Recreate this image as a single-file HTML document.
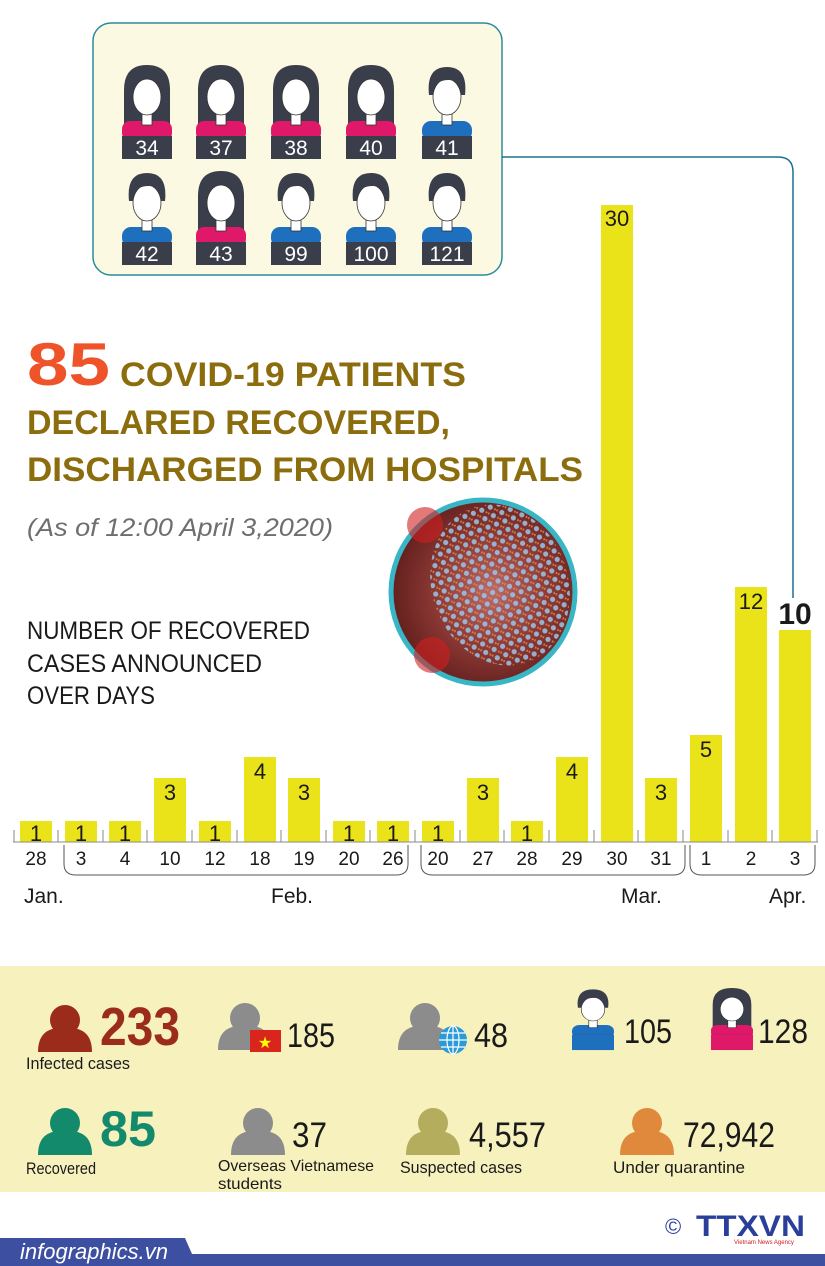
<!DOCTYPE html>
<html><head><meta charset="utf-8"><style>
html,body{margin:0;padding:0;background:#fff;}
svg{display:block;}
text{font-family:"Liberation Sans Narrow","Liberation Sans",sans-serif;}
</style></head><body>
<svg width="825" height="1266" viewBox="0 0 825 1266" xmlns="http://www.w3.org/2000/svg">
<defs>
<radialGradient id="vg" cx="0.55" cy="0.5" r="0.6">
<stop offset="0" stop-color="#b86a6a"/><stop offset="0.5" stop-color="#8e3a36"/><stop offset="1" stop-color="#5a1a18"/>
</radialGradient>
<pattern id="dots" width="9" height="9" patternUnits="userSpaceOnUse">
<circle cx="4.5" cy="4.5" r="2.6" fill="#9cc6e6"/><circle cx="0" cy="0" r="2" fill="#e08a4a"/><circle cx="9" cy="9" r="2" fill="#e08a4a"/>
</pattern>
<g id="fem">
<path d="M2,72 L2,25 Q2,0 25,0 Q48,0 48,25 L48,72 Z" fill="#3a3e4a"/>
<rect x="0" y="56" width="50" height="20" rx="8" fill="#e0186a"/>
<rect x="20" y="48" width="10" height="12" fill="#fff" stroke="#333" stroke-width="0.8"/>
<ellipse cx="25" cy="32" rx="14" ry="18" fill="#fff" stroke="#333" stroke-width="0.8"/>
<path d="M10,28 Q12,8 25,8 Q38,8 40,28 Q38,14 25,13 Q12,14 10,28Z" fill="#3a3e4a"/>
<rect x="0" y="71" width="50" height="23" fill="#3a3e4a"/>
</g>
<g id="mal">
<path d="M7,30 Q4,2 25,2 Q46,2 43,30 Z" fill="#3a3e4a"/>
<rect x="0" y="56" width="50" height="20" rx="9" fill="#1f6fbf"/>
<rect x="20" y="48" width="10" height="12" fill="#fff" stroke="#333" stroke-width="0.8"/>
<ellipse cx="25" cy="32" rx="14" ry="18" fill="#fff" stroke="#333" stroke-width="0.8"/>
<path d="M9,30 Q8,6 25,6 Q42,6 41,30 Q38,14 26,15 Q12,15 9,30Z" fill="#3a3e4a"/>
<rect x="0" y="71" width="50" height="23" fill="#3a3e4a"/>
</g>
<g id="per">
<circle cx="0" cy="-32" r="15"/>
<path d="M-27,0 Q-27,-26 0,-24 Q27,-26 27,0 Z"/>
</g>
</defs>

<rect x="93" y="23" width="409" height="252" rx="18" fill="#fbf9e2" stroke="#2b8aa0" stroke-width="1.5"/>
<path d="M502,157 L778,157 Q793,157 793,172 L793,598" fill="none" stroke="#1f6f8f" stroke-width="1.5"/>
<g font-size="21" fill="#fff" text-anchor="middle">
<use href="#fem" x="122" y="65"/><text x="147" y="155">34</text>
<use href="#fem" x="196" y="65"/><text x="221" y="155">37</text>
<use href="#fem" x="271" y="65"/><text x="296" y="155">38</text>
<use href="#fem" x="346" y="65"/><text x="371" y="155">40</text>
<use href="#mal" x="422" y="65"/><text x="447" y="155">41</text>
<use href="#mal" x="122" y="171"/><text x="147" y="261">42</text>
<use href="#fem" x="196" y="171"/><text x="221" y="261">43</text>
<use href="#mal" x="271" y="171"/><text x="296" y="261">99</text>
<use href="#mal" x="346" y="171"/><text x="371" y="261">100</text>
<use href="#mal" x="422" y="171"/><text x="447" y="261">121</text>
</g>

<text x="27" y="385" font-size="60" font-weight="bold" fill="#ef532a" textLength="83" lengthAdjust="spacingAndGlyphs">85</text>
<g font-weight="bold" fill="#8c6d0e" font-size="34">
<text x="120" y="386" textLength="346" lengthAdjust="spacingAndGlyphs">COVID-19 PATIENTS</text>
<text x="27" y="434" textLength="423" lengthAdjust="spacingAndGlyphs">DECLARED RECOVERED,</text>
<text x="27" y="481" textLength="556" lengthAdjust="spacingAndGlyphs">DISCHARGED FROM HOSPITALS</text>
</g>
<text x="27" y="536" font-size="25" font-style="italic" fill="#6e6e6e" textLength="306" lengthAdjust="spacingAndGlyphs">(As of 12:00 April 3,2020)</text>
<g font-size="25" fill="#1a1a1a">
<text x="27" y="639" textLength="283" lengthAdjust="spacingAndGlyphs">NUMBER OF RECOVERED</text>
<text x="27" y="672" textLength="235" lengthAdjust="spacingAndGlyphs">CASES ANNOUNCED</text>
<text x="27" y="704" textLength="128" lengthAdjust="spacingAndGlyphs">OVER DAYS</text>
</g>

<circle cx="483" cy="592" r="92" fill="url(#vg)" stroke="#38b6c6" stroke-width="5"/>
<ellipse cx="500" cy="585" rx="68" ry="82" fill="url(#dots)" opacity="0.85" transform="rotate(-20 500 585)"/>
<circle cx="425" cy="525" r="18" fill="#d02020" opacity="0.6"/>
<circle cx="432" cy="655" r="18" fill="#d02020" opacity="0.6"/>

<g fill="#ebe319">
<rect x="20" y="821" width="32" height="21"/>
<rect x="65" y="821" width="32" height="21"/>
<rect x="109" y="821" width="32" height="21"/>
<rect x="154" y="778" width="32" height="64"/>
<rect x="199" y="821" width="32" height="21"/>
<rect x="244" y="757" width="32" height="85"/>
<rect x="288" y="778" width="32" height="64"/>
<rect x="333" y="821" width="32" height="21"/>
<rect x="377" y="821" width="32" height="21"/>
<rect x="422" y="821" width="32" height="21"/>
<rect x="467" y="778" width="32" height="64"/>
<rect x="511" y="821" width="32" height="21"/>
<rect x="556" y="757" width="32" height="85"/>
<rect x="601" y="205" width="32" height="637"/>
<rect x="645" y="778" width="32" height="64"/>
<rect x="690" y="735" width="32" height="107"/>
<rect x="735" y="587" width="32" height="255"/>
<rect x="779" y="630" width="32" height="212"/>
</g>
<g font-size="22" fill="#1a1a1a" text-anchor="middle">
<text x="36" y="841">1</text><text x="81" y="841">1</text><text x="125" y="841">1</text>
<text x="170" y="800">3</text><text x="215" y="841">1</text><text x="260" y="779">4</text>
<text x="304" y="800">3</text><text x="349" y="841">1</text><text x="393" y="841">1</text>
<text x="438" y="841">1</text><text x="483" y="800">3</text><text x="527" y="841">1</text>
<text x="572" y="779">4</text><text x="617" y="226">30</text><text x="661" y="800">3</text>
<text x="706" y="757">5</text><text x="751" y="609">12</text>
<text x="795" y="624" font-size="30" font-weight="bold">10</text>
</g>
<path d="M13,842 L818,842" stroke="#888" stroke-width="1"/>
<g stroke="#888" stroke-width="1">
<path d="M14,830V842M58,830V842M103,830V842M147,830V842M192,830V842M237,830V842M281,830V842M326,830V842M370,830V842M415,830V842M460,830V842M504,830V842M549,830V842M594,830V842M638,830V842M683,830V842M728,830V842M772,830V842M817,830V842"/>
</g>
<g font-size="19" fill="#1a1a1a" text-anchor="middle">
<text x="36" y="865">28</text><text x="81" y="865">3</text><text x="125" y="865">4</text>
<text x="170" y="865">10</text><text x="215" y="865">12</text><text x="260" y="865">18</text>
<text x="304" y="865">19</text><text x="349" y="865">20</text><text x="393" y="865">26</text>
<text x="438" y="865">20</text><text x="483" y="865">27</text><text x="527" y="865">28</text>
<text x="572" y="865">29</text><text x="617" y="865">30</text><text x="661" y="865">31</text>
<text x="706" y="865">1</text><text x="751" y="865">2</text><text x="795" y="865">3</text>
</g>
<g fill="none" stroke="#555" stroke-width="1">
<path d="M64,845 L64,864 Q64,875 76,875 L396,875 Q408,875 408,864 L408,845"/>
<path d="M421,845 L421,864 Q421,875 433,875 L673,875 Q685,875 685,864 L685,845"/>
<path d="M690,845 L690,864 Q690,875 702,875 L803,875 Q815,875 815,864 L815,845"/>
</g>
<g font-size="21" fill="#1a1a1a">
<text x="24" y="903">Jan.</text><text x="271" y="903">Feb.</text><text x="621" y="903">Mar.</text><text x="769" y="903">Apr.</text>
</g>

<rect x="0" y="966" width="825" height="226" fill="#f6f1bd"/>
<use href="#per" x="65" y="1052" fill="#9b2c1b"/>
<text x="100" y="1045" font-size="54" font-weight="bold" fill="#9b2c1b" textLength="80" lengthAdjust="spacingAndGlyphs">233</text>
<text x="26" y="1069" font-size="17" fill="#1a1a1a" textLength="104" lengthAdjust="spacingAndGlyphs">Infected cases</text>
<use href="#per" x="245" y="1050" fill="#8c8c8c"/>
<rect x="250" y="1030" width="31" height="22" fill="#da251d"/>
<text x="265" y="1048" font-size="16" fill="#ff0" text-anchor="middle">★</text>
<text x="287" y="1047" font-size="34" fill="#1a1a1a" textLength="48" lengthAdjust="spacingAndGlyphs">185</text>
<use href="#per" x="425" y="1050" fill="#8c8c8c"/>
<circle cx="453" cy="1040" r="14" fill="#2a9ad8"/>
<g stroke="#fff" stroke-width="1.2" fill="none"><ellipse cx="453" cy="1040" rx="6" ry="14"/><path d="M439,1040H467M441,1033H465M441,1047H465M453,1026V1054"/></g>
<text x="474" y="1047" font-size="34" fill="#1a1a1a" textLength="34" lengthAdjust="spacingAndGlyphs">48</text>
<g transform="translate(572,988) scale(0.84,0.66)"><use href="#mal"/></g>
<rect x="572" y="1035" width="42" height="15" fill="#1f6fbf"/>
<text x="624" y="1043" font-size="34" fill="#1a1a1a" textLength="48" lengthAdjust="spacingAndGlyphs">105</text>
<g transform="translate(711,988) scale(0.84,0.66)"><use href="#fem"/></g>
<rect x="711" y="1035" width="42" height="15" fill="#e0186a"/>
<text x="758" y="1043" font-size="34" fill="#1a1a1a" textLength="50" lengthAdjust="spacingAndGlyphs">128</text>

<use href="#per" x="65" y="1155" fill="#138a6c"/>
<text x="100" y="1146" font-size="50" font-weight="bold" fill="#138a6c" textLength="56" lengthAdjust="spacingAndGlyphs">85</text>
<text x="26" y="1174" font-size="17" fill="#1a1a1a" textLength="70" lengthAdjust="spacingAndGlyphs">Recovered</text>
<use href="#per" x="258" y="1155" fill="#8c8c8c"/>
<text x="292" y="1147" font-size="35" fill="#1a1a1a" textLength="35" lengthAdjust="spacingAndGlyphs">37</text>
<text x="218" y="1171" font-size="16" fill="#1a1a1a" textLength="156" lengthAdjust="spacingAndGlyphs">Overseas Vietnamese</text>
<text x="218" y="1189" font-size="16" fill="#1a1a1a" textLength="64" lengthAdjust="spacingAndGlyphs">students</text>
<use href="#per" x="433" y="1155" fill="#b5ad5e"/>
<text x="469" y="1147" font-size="35" fill="#1a1a1a" textLength="77" lengthAdjust="spacingAndGlyphs">4,557</text>
<text x="400" y="1173" font-size="17" fill="#1a1a1a" textLength="122" lengthAdjust="spacingAndGlyphs">Suspected cases</text>
<use href="#per" x="647" y="1155" fill="#e0893c"/>
<text x="683" y="1147" font-size="35" fill="#1a1a1a" textLength="92" lengthAdjust="spacingAndGlyphs">72,942</text>
<text x="613" y="1173" font-size="17" fill="#1a1a1a" textLength="132" lengthAdjust="spacingAndGlyphs">Under quarantine</text>

<text x="665" y="1234" font-size="22" fill="#2a3f9a">©</text>
<text x="696" y="1236" font-size="30" font-weight="bold" fill="#2a3f9a" textLength="109" lengthAdjust="spacingAndGlyphs">TTXVN</text>
<text x="734" y="1244" font-size="6" fill="#d02020">Vietnam News Agency</text>

<path d="M0,1238 L185,1238 L192,1254 L825,1254 L825,1266 L0,1266 Z" fill="#3d4fa0"/>
<text x="20" y="1259" font-size="22" font-style="italic" fill="#fff" textLength="148" lengthAdjust="spacingAndGlyphs">infographics.vn</text>
</svg>
</body></html>
